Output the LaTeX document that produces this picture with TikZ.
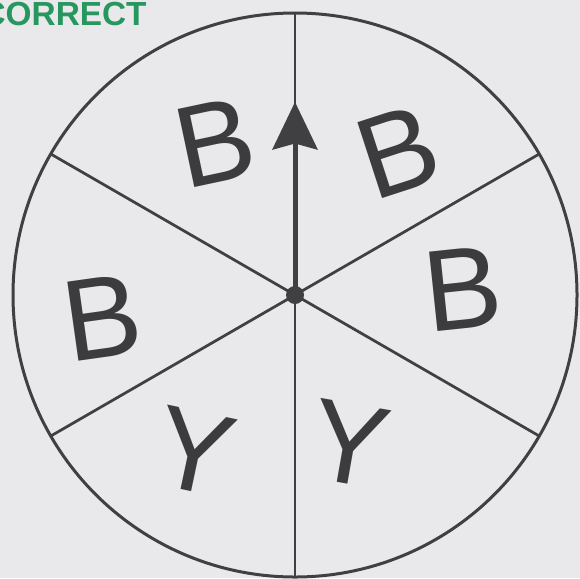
\documentclass[tikz,border=0pt]{standalone}
\usepackage{fontspec}
\setmainfont{Liberation Sans}
\usepackage{xcolor}
\usetikzlibrary{arrows.meta, positioning, calc}

\definecolor{paper}{RGB}{233,233,235}
\definecolor{ink}{RGB}{64,64,66}
\definecolor{pencil}{RGB}{60,60,62}
\definecolor{okgreen}{RGB}{40,150,95}

\tikzset{
  rim/.style={draw=ink, line width=0.06cm},
  spoke/.style={draw=ink, line width=0.055cm},
  letter/.style={text=pencil, inner sep=0pt, font=\fontsize{66}{66}\selectfont},
}

\begin{document}
\begin{tikzpicture}[x=0.02cm, y=-0.02cm]
  % page
  \fill[paper] (0,0) rectangle (580,578);
  \useasboundingbox (0,0) rectangle (580,578);
  \node[anchor=base east, text=okgreen, inner sep=0pt,
        font=\bfseries\fontsize{19}{19}\selectfont] (verdict) at (147,25) {CORRECT};

  % spinner
  \coordinate (c) at (295,295);
  \draw[rim] (c) circle[radius=282];
  \foreach \a in {30,90,150,210,270,330}
    \draw[spoke] (c) -- ++(\a:282) coordinate (r\a);
  \coordinate (tip) at (295,102);
  \draw[ink, line width=0.1cm, -{Stealth[length=0.95cm, width=0.9cm, inset=0.12cm]}] (c) -- (tip);
  \node[circle, fill=ink, minimum size=0.36cm, inner sep=0pt] (hub) at (c) {};

  % sector labels
  \node[letter, rotate=12]  (b1) at (215,142) {B};
  \node[letter, rotate=18]  (b2) at (398,152) {B};
  \node[letter, rotate=8]   (b3) at (102,318) {B};
  \node[letter, rotate=6]   (b4) at (463,289) {B};
  \node[letter, rotate=-12] (y1) at (195,452) {Y};
  \node[letter, rotate=-10] (y2) at (350,444) {Y};
\end{tikzpicture}
\end{document}
